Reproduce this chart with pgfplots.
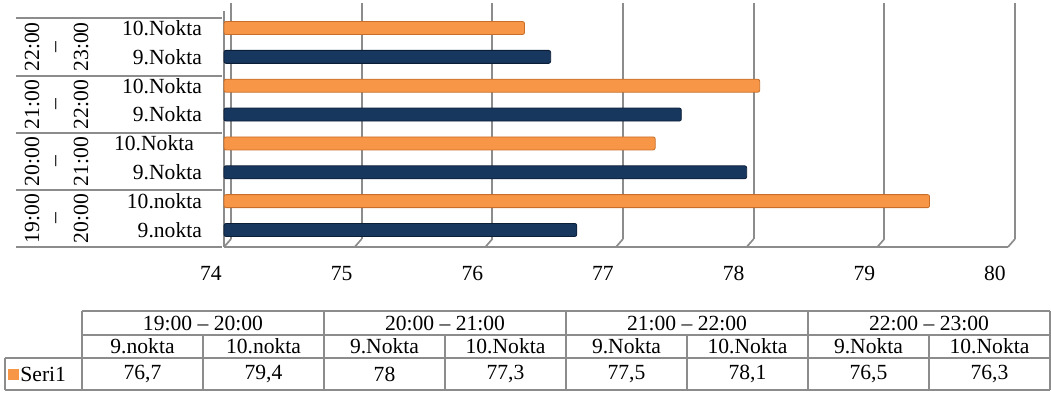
\documentclass[border=0pt]{standalone}
\usepackage{pgfplots}
\pgfplotsset{compat=1.18}
\usepackage{fontspec}
\setmainfont{Liberation Serif}
\definecolor{barorange}{RGB}{247,150,70}
\definecolor{barorangedark}{RGB}{200,110,40}
\definecolor{barblue}{RGB}{23,55,94}
\definecolor{barbluedark}{RGB}{12,30,55}
\definecolor{tgray}{RGB}{140,140,140}
\definecolor{ggray}{RGB}{140,140,140}
\newcommand{\tf}{\fontsize{10.8}{12.5}\selectfont}
\newcommand{\shiftedlabel}{\mbox{10.Nokta\kern4pt}}
\begin{document}
\begin{tikzpicture}[x=0.5pt,y=0.5pt,font=\tf]
\path[use as bounding box] (0,0) rectangle (1051,392);
% left category table lines
\foreach \yy in {374,316,259,202,145} {
  \draw[tgray, line width=0.7pt] (16,\yy) -- (222,\yy);
}
% group labels (rotated)
\foreach \ya/\a/\b in {345/22:00/23:00, 287.5/21:00/22:00, 230.5/20:00/21:00, 173.5/19:00/20:00} {
  \node[rotate=90] at (32,\ya) {\a};
  \node[rotate=90] at (58,\ya) {--};
  \node[rotate=90] at (81,\ya) {\b};
}
\begin{axis}[
  at={(112pt,72.5pt)}, anchor=south west, scale only axis,
  width=392pt, height=118pt,
  xmin=74, xmax=80, ymin=-0.59, ymax=7.59,
  xbar, bar width=6.5pt, bar shift=0pt,
  separate axis lines,
  axis x line*=bottom, axis y line*=left,
  axis line style={ggray, line width=0.8pt, -},
  xtick={74,75,76,77,78,79,80},
  ytick={0,1,2,3,4,5,6,7},
  yticklabels={9.nokta,10.nokta,9.Nokta,\shiftedlabel,9.Nokta,10.Nokta,9.Nokta,10.Nokta},
  major tick length=0pt, tick style={draw=none},
  tick label style={font=\tf},
  /pgf/number format/assume math mode=true,
  xticklabel style={xshift=-6.5pt, yshift=-6pt},
  yticklabel style={xshift=-7.5pt},
  xmajorgrids,
  major grid style={ggray, line width=0.85pt, xshift=3.5pt, yshift=4pt},
  clip=false,
]
\addplot[fill=barblue, draw=barbluedark, rounded corners=1pt] coordinates {
  (76.7,0) (78,2) (77.5,4) (76.5,6)
};
\addplot[fill=barorange, draw=barorangedark, rounded corners=1pt] coordinates {
  (79.4,1) (77.3,3) (78.1,5) (76.3,7)
};
\pgfplotsinvokeforeach{74,75,76,77,78,79,80}{
  \draw[ggray, line width=0.85pt] (axis cs:#1,-0.59) -- ++(3.5pt,4pt);
}
\end{axis}
% data table
\begin{scope}[tgray, line width=0.8pt]
\draw (82,81) -- (1050,81);
\draw (82,57) -- (1050,57);
\draw (5,34) -- (1050,34);
\draw (5,2) -- (1050,2);
\draw (5,34) -- (5,2);
\foreach \xx in {82,324,566,808,1050} { \draw (\xx,81) -- (\xx,2); }
\foreach \xx in {203,445,687,929} { \draw (\xx,57) -- (\xx,2); }
\end{scope}
\foreach \xc/\t in {203/19:00 -- 20:00, 445/20:00 -- 21:00, 687/21:00 -- 22:00, 929/22:00 -- 23:00} {
  \node at (\xc,69) {\t};
}
\foreach \xc/\t in {142.5/9.nokta, 263.5/10.nokta, 384.5/9.Nokta, 505.5/10.Nokta, 626.5/9.Nokta, 747.5/10.Nokta, 868.5/9.Nokta, 989.5/10.Nokta} {
  \node at (\xc,45.5) {\t};
}
\foreach \xc/\t in {142.5/{76,7}, 263.5/{79,4}, 384.5/78, 505.5/{77,3}, 626.5/{77,5}, 747.5/{78,1}, 868.5/{76,5}, 989.5/{76,3}} {
  \node at (\xc,18) {\t};
}
\fill[barorange] (8,12) rectangle (19,23);
\node[anchor=west, inner sep=0pt] at (20,18) {Seri1};
\end{tikzpicture}
\end{document}
